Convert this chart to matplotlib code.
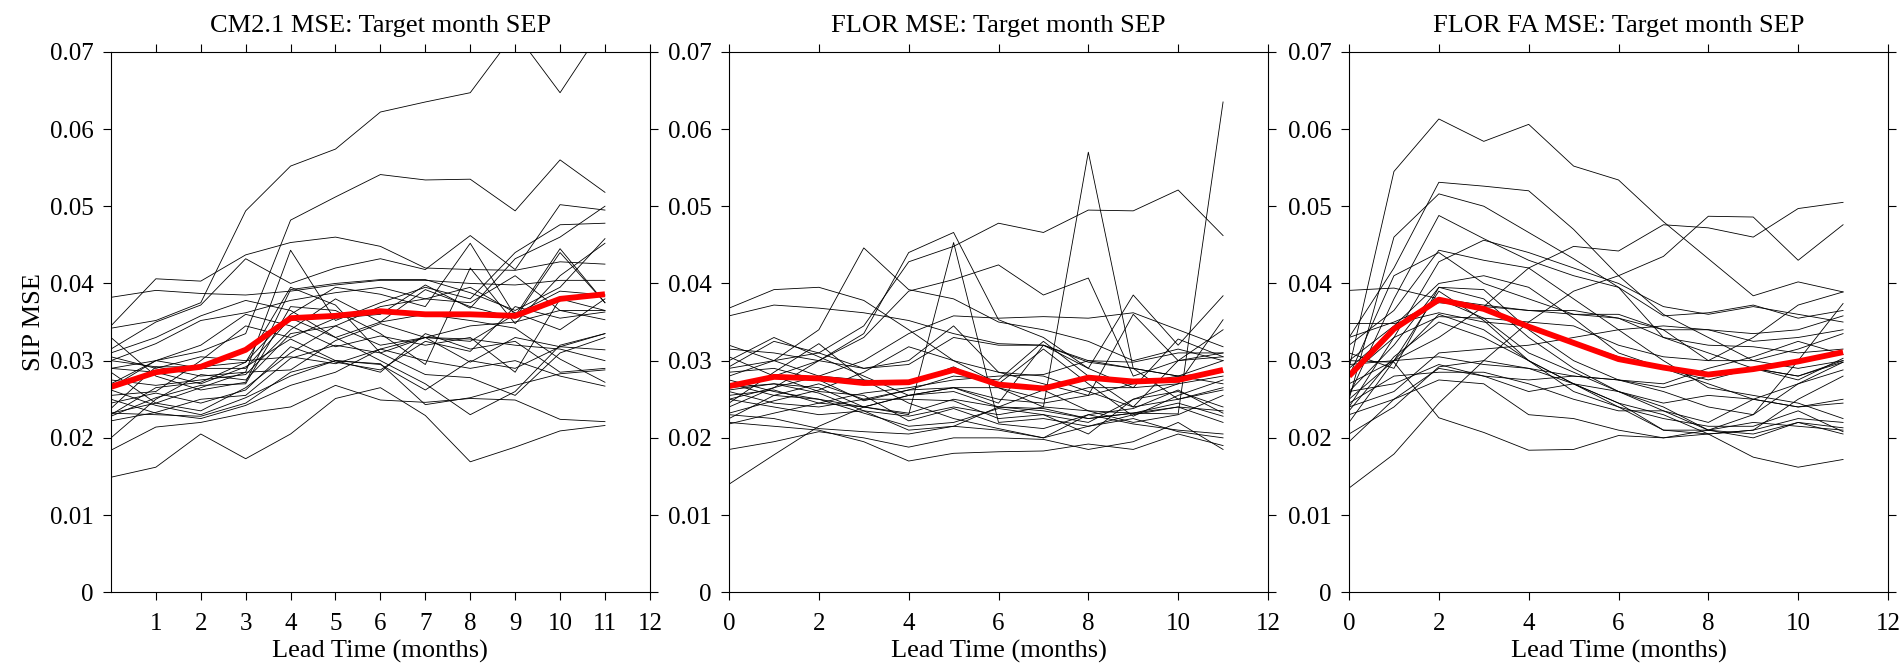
import matplotlib
matplotlib.use("Agg")
from matplotlib import pyplot as plt

# lead times (months)
lead = list(range(12))

# CM2.1 - individual curves (one list per curve, lead 0..11)
cm21_runs = [
    [0.0342, 0.0352, 0.0375, 0.0494, 0.0552, 0.0574, 0.0622, 0.0635, 0.0647, 0.0725, 0.0647, 0.0735],
    [0.0290, 0.0300, 0.0312, 0.0335, 0.0482, 0.0512, 0.0541, 0.0534, 0.0535, 0.0494, 0.0560, 0.0518],
    [0.0382, 0.0391, 0.0387, 0.0385, 0.0390, 0.0398, 0.0404, 0.0404, 0.0400, 0.0398, 0.0404, 0.0404],
    [0.0345, 0.0406, 0.0403, 0.0437, 0.0453, 0.0460, 0.0448, 0.0420, 0.0418, 0.0417, 0.0428, 0.0425],
    [0.0149, 0.0162, 0.0205, 0.0173, 0.0205, 0.0251, 0.0265, 0.0229, 0.0169, 0.0188, 0.0209, 0.0216],
    [0.0184, 0.0214, 0.0220, 0.0232, 0.0240, 0.0268, 0.0249, 0.0246, 0.0251, 0.0249, 0.0224, 0.0221],
    [0.0315, 0.0350, 0.0372, 0.0432, 0.0400, 0.0420, 0.0432, 0.0418, 0.0462, 0.0418, 0.0502, 0.0495],
    [0.0300, 0.0292, 0.0280, 0.0285, 0.0443, 0.0352, 0.0375, 0.0395, 0.0380, 0.0440, 0.0476, 0.0478],
    [0.0330, 0.0280, 0.0262, 0.0272, 0.0392, 0.0400, 0.0405, 0.0405, 0.0388, 0.0365, 0.0395, 0.0458],
    [0.0230, 0.0265, 0.0272, 0.0298, 0.0360, 0.0395, 0.0386, 0.0370, 0.0452, 0.0358, 0.0445, 0.0375],
    [0.0255, 0.0260, 0.0300, 0.0345, 0.0330, 0.0355, 0.0360, 0.0398, 0.0368, 0.0432, 0.0460, 0.0500],
    [0.0228, 0.0252, 0.0268, 0.0270, 0.0370, 0.0365, 0.0335, 0.0295, 0.0420, 0.0348, 0.0410, 0.0452],
    [0.0270, 0.0300, 0.0320, 0.0360, 0.0345, 0.0318, 0.0332, 0.0320, 0.0330, 0.0285, 0.0380, 0.0365],
    [0.0290, 0.0285, 0.0270, 0.0292, 0.0328, 0.0300, 0.0295, 0.0262, 0.0300, 0.0290, 0.0318, 0.0335],
    [0.0245, 0.0258, 0.0245, 0.0262, 0.0318, 0.0298, 0.0288, 0.0325, 0.0312, 0.0370, 0.0355, 0.0363],
    [0.0232, 0.0245, 0.0265, 0.0285, 0.0288, 0.0326, 0.0348, 0.0330, 0.0328, 0.0320, 0.0315, 0.0300],
    [0.0262, 0.0242, 0.0230, 0.0252, 0.0280, 0.0300, 0.0285, 0.0335, 0.0315, 0.0325, 0.0285, 0.0290],
    [0.0300, 0.0322, 0.0352, 0.0362, 0.0378, 0.0388, 0.0395, 0.0380, 0.0375, 0.0410, 0.0365, 0.0353],
    [0.0222, 0.0233, 0.0250, 0.0255, 0.0303, 0.0320, 0.0310, 0.0282, 0.0278, 0.0255, 0.0310, 0.0330],
    [0.0275, 0.0268, 0.0275, 0.0282, 0.0340, 0.0380, 0.0350, 0.0360, 0.0352, 0.0342, 0.0302, 0.0272],
    [0.0310, 0.0330, 0.0358, 0.0378, 0.0365, 0.0330, 0.0350, 0.0392, 0.0370, 0.0355, 0.0440, 0.0375],
    [0.0250, 0.0232, 0.0225, 0.0242, 0.0268, 0.0285, 0.0315, 0.0300, 0.0290, 0.0300, 0.0280, 0.0267],
    [0.0238, 0.0292, 0.0292, 0.0298, 0.0395, 0.0372, 0.0310, 0.0330, 0.0298, 0.0330, 0.0318, 0.0314],
    [0.0285, 0.0245, 0.0235, 0.0265, 0.0310, 0.0345, 0.0320, 0.0330, 0.0325, 0.0360, 0.0390, 0.0385],
    [0.0232, 0.0230, 0.0228, 0.0245, 0.0285, 0.0300, 0.0296, 0.0243, 0.0252, 0.0268, 0.0283, 0.0288],
    [0.0200, 0.0250, 0.0282, 0.0275, 0.0335, 0.0345, 0.0370, 0.0380, 0.0395, 0.0362, 0.0340, 0.0380],
    [0.0265, 0.0300, 0.0290, 0.0290, 0.0355, 0.0330, 0.0300, 0.0270, 0.0230, 0.0260, 0.0320, 0.0335],
    [0.0305, 0.0290, 0.0305, 0.0300, 0.0305, 0.0296, 0.0315, 0.0330, 0.0345, 0.0350, 0.0365, 0.0365],
]
cm21_mean = [0.0266, 0.0285, 0.0292, 0.0314, 0.0355, 0.0358, 0.0364, 0.0360, 0.0360, 0.0358, 0.0380, 0.0386]

# FLOR
flor_runs = [
    [0.0368, 0.0392, 0.0395, 0.0378, 0.0340, 0.0300, 0.0285, 0.0280, 0.0260, 0.0240, 0.0250, 0.0262],
    [0.0358, 0.0372, 0.0368, 0.0362, 0.0352, 0.0335, 0.0322, 0.0320, 0.0300, 0.0290, 0.0280, 0.0270],
    [0.0290, 0.0300, 0.0340, 0.0446, 0.0392, 0.0380, 0.0350, 0.0340, 0.0325, 0.0300, 0.0315, 0.0300],
    [0.0250, 0.0265, 0.0300, 0.0335, 0.0440, 0.0466, 0.0353, 0.0330, 0.0290, 0.0265, 0.0270, 0.0280],
    [0.0280, 0.0300, 0.0310, 0.0345, 0.0428, 0.0448, 0.0478, 0.0466, 0.0495, 0.0494, 0.0521, 0.0462],
    [0.0265, 0.0280, 0.0300, 0.0330, 0.0390, 0.0405, 0.0424, 0.0385, 0.0407, 0.0280, 0.0300, 0.0310],
    [0.0270, 0.0255, 0.0250, 0.0240, 0.0230, 0.0453, 0.0220, 0.0225, 0.0215, 0.0230, 0.0240, 0.0235],
    [0.0250, 0.0240, 0.0230, 0.0235, 0.0228, 0.0240, 0.0230, 0.0240, 0.0570, 0.0290, 0.0250, 0.0265],
    [0.0255, 0.0262, 0.0245, 0.0240, 0.0232, 0.0250, 0.0240, 0.0238, 0.0225, 0.0232, 0.0231, 0.0635],
    [0.0140, 0.0178, 0.0215, 0.0240, 0.0255, 0.0265, 0.0250, 0.0245, 0.0255, 0.0270, 0.0280, 0.0300],
    [0.0185, 0.0195, 0.0208, 0.0200, 0.0188, 0.0200, 0.0200, 0.0198, 0.0185, 0.0195, 0.0220, 0.0185],
    [0.0220, 0.0215, 0.0210, 0.0195, 0.0170, 0.0180, 0.0182, 0.0183, 0.0192, 0.0185, 0.0205, 0.0190],
    [0.0230, 0.0225, 0.0212, 0.0208, 0.0205, 0.0215, 0.0210, 0.0200, 0.0215, 0.0225, 0.0208, 0.0200],
    [0.0300, 0.0330, 0.0305, 0.0280, 0.0255, 0.0260, 0.0240, 0.0262, 0.0235, 0.0232, 0.0240, 0.0220],
    [0.0315, 0.0310, 0.0300, 0.0290, 0.0295, 0.0330, 0.0320, 0.0320, 0.0298, 0.0290, 0.0280, 0.0285],
    [0.0320, 0.0300, 0.0280, 0.0300, 0.0335, 0.0358, 0.0355, 0.0357, 0.0355, 0.0362, 0.0340, 0.0318],
    [0.0292, 0.0325, 0.0310, 0.0290, 0.0300, 0.0345, 0.0285, 0.0270, 0.0255, 0.0360, 0.0300, 0.0305],
    [0.0265, 0.0270, 0.0265, 0.0240, 0.0255, 0.0265, 0.0245, 0.0320, 0.0290, 0.0385, 0.0320, 0.0384],
    [0.0275, 0.0260, 0.0250, 0.0232, 0.0215, 0.0220, 0.0238, 0.0230, 0.0220, 0.0250, 0.0270, 0.0353],
    [0.0285, 0.0290, 0.0275, 0.0248, 0.0262, 0.0280, 0.0275, 0.0325, 0.0280, 0.0240, 0.0300, 0.0340],
    [0.0240, 0.0265, 0.0280, 0.0275, 0.0270, 0.0292, 0.0265, 0.0250, 0.0265, 0.0265, 0.0328, 0.0305],
    [0.0225, 0.0255, 0.0270, 0.0250, 0.0250, 0.0248, 0.0225, 0.0230, 0.0205, 0.0250, 0.0260, 0.0240],
    [0.0262, 0.0270, 0.0258, 0.0235, 0.0210, 0.0215, 0.0240, 0.0235, 0.0225, 0.0232, 0.0245, 0.0228],
    [0.0245, 0.0285, 0.0322, 0.0275, 0.0245, 0.0225, 0.0212, 0.0200, 0.0230, 0.0218, 0.0210, 0.0205],
    [0.0232, 0.0248, 0.0262, 0.0285, 0.0318, 0.0300, 0.0270, 0.0315, 0.0270, 0.0228, 0.0255, 0.0275],
    [0.0305, 0.0280, 0.0260, 0.0255, 0.0222, 0.0238, 0.0218, 0.0212, 0.0230, 0.0238, 0.0262, 0.0232],
    [0.0218, 0.0232, 0.0245, 0.0258, 0.0265, 0.0275, 0.0280, 0.0282, 0.0300, 0.0298, 0.0310, 0.0310],
    [0.0260, 0.0245, 0.0240, 0.0250, 0.0262, 0.0265, 0.0265, 0.0240, 0.0235, 0.0220, 0.0230, 0.0255],
]
flor_mean = [0.0267, 0.0279, 0.0277, 0.0271, 0.0272, 0.0288, 0.0269, 0.0264, 0.0278, 0.0273, 0.0275, 0.0288]

# FLOR FA
florfa_runs = [
    [0.0290, 0.0545, 0.0613, 0.0584, 0.0606, 0.0552, 0.0534, 0.0480, 0.0432, 0.0384, 0.0402, 0.0389],
    [0.0330, 0.0420, 0.0531, 0.0526, 0.0520, 0.0470, 0.0410, 0.0360, 0.0330, 0.0300, 0.0290, 0.0300],
    [0.0250, 0.0460, 0.0516, 0.0500, 0.0466, 0.0432, 0.0395, 0.0358, 0.0362, 0.0372, 0.0355, 0.0365],
    [0.0255, 0.0380, 0.0488, 0.0458, 0.0430, 0.0410, 0.0395, 0.0330, 0.0310, 0.0290, 0.0280, 0.0298],
    [0.0270, 0.0300, 0.0330, 0.0370, 0.0420, 0.0448, 0.0442, 0.0476, 0.0472, 0.0460, 0.0497, 0.0505],
    [0.0135, 0.0179, 0.0245, 0.0300, 0.0350, 0.0390, 0.0410, 0.0435, 0.0487, 0.0486, 0.0430, 0.0476],
    [0.0300, 0.0298, 0.0226, 0.0207, 0.0184, 0.0185, 0.0203, 0.0200, 0.0205, 0.0175, 0.0162, 0.0172],
    [0.0391, 0.0394, 0.0380, 0.0372, 0.0365, 0.0360, 0.0355, 0.0330, 0.0320, 0.0318, 0.0310, 0.0315],
    [0.0348, 0.0348, 0.0362, 0.0350, 0.0345, 0.0325, 0.0305, 0.0290, 0.0275, 0.0290, 0.0280, 0.0300],
    [0.0320, 0.0365, 0.0443, 0.0430, 0.0420, 0.0380, 0.0340, 0.0300, 0.0265, 0.0255, 0.0245, 0.0225],
    [0.0280, 0.0410, 0.0440, 0.0400, 0.0380, 0.0360, 0.0360, 0.0340, 0.0300, 0.0330, 0.0372, 0.0389],
    [0.0240, 0.0330, 0.0428, 0.0456, 0.0440, 0.0420, 0.0400, 0.0370, 0.0360, 0.0370, 0.0360, 0.0350],
    [0.0300, 0.0345, 0.0400, 0.0410, 0.0395, 0.0355, 0.0310, 0.0290, 0.0270, 0.0250, 0.0240, 0.0250],
    [0.0260, 0.0320, 0.0395, 0.0380, 0.0330, 0.0290, 0.0260, 0.0240, 0.0210, 0.0205, 0.0220, 0.0213],
    [0.0220, 0.0300, 0.0390, 0.0352, 0.0300, 0.0270, 0.0245, 0.0230, 0.0205, 0.0210, 0.0225, 0.0220],
    [0.0290, 0.0340, 0.0380, 0.0355, 0.0310, 0.0285, 0.0260, 0.0235, 0.0210, 0.0200, 0.0220, 0.0205],
    [0.0330, 0.0350, 0.0375, 0.0370, 0.0365, 0.0365, 0.0355, 0.0340, 0.0340, 0.0325, 0.0330, 0.0340],
    [0.0250, 0.0300, 0.0360, 0.0340, 0.0300, 0.0260, 0.0240, 0.0225, 0.0215, 0.0215, 0.0235, 0.0208],
    [0.0280, 0.0330, 0.0357, 0.0355, 0.0350, 0.0345, 0.0320, 0.0305, 0.0300, 0.0300, 0.0315, 0.0335],
    [0.0240, 0.0260, 0.0310, 0.0315, 0.0320, 0.0330, 0.0340, 0.0345, 0.0340, 0.0335, 0.0340, 0.0358],
    [0.0295, 0.0300, 0.0305, 0.0295, 0.0290, 0.0280, 0.0275, 0.0270, 0.0290, 0.0305, 0.0325, 0.0308],
    [0.0230, 0.0250, 0.0290, 0.0280, 0.0275, 0.0280, 0.0275, 0.0265, 0.0280, 0.0290, 0.0275, 0.0303],
    [0.0260, 0.0270, 0.0295, 0.0280, 0.0260, 0.0270, 0.0260, 0.0245, 0.0255, 0.0250, 0.0240, 0.0245],
    [0.0195, 0.0250, 0.0275, 0.0270, 0.0230, 0.0225, 0.0210, 0.0200, 0.0210, 0.0220, 0.0215, 0.0210],
    [0.0245, 0.0280, 0.0285, 0.0285, 0.0270, 0.0250, 0.0235, 0.0235, 0.0220, 0.0250, 0.0270, 0.0288],
    [0.0235, 0.0305, 0.0350, 0.0330, 0.0300, 0.0270, 0.0240, 0.0210, 0.0210, 0.0230, 0.0300, 0.0374],
    [0.0310, 0.0290, 0.0395, 0.0392, 0.0340, 0.0300, 0.0275, 0.0260, 0.0240, 0.0230, 0.0270, 0.0298],
    [0.0205, 0.0240, 0.0292, 0.0300, 0.0290, 0.0270, 0.0245, 0.0210, 0.0205, 0.0210, 0.0250, 0.0280],
]
florfa_mean = [0.0280, 0.0341, 0.0379, 0.0367, 0.0344, 0.0323, 0.0302, 0.0291, 0.0282, 0.0289, 0.0299, 0.0311]

titles = ["CM2.1 MSE: Target month SEP", "FLOR MSE: Target month SEP",
          "FLOR FA MSE: Target month SEP"]
yticks = [0, 0.01, 0.02, 0.03, 0.04, 0.05, 0.06, 0.07]
ytick_labels = ["0", "0.01", "0.02", "0.03", "0.04", "0.05", "0.06", "0.07"]

plt.rcParams['font.family'] = ['Liberation Serif', 'DejaVu Serif']

fig = plt.figure(figsize=(19.03, 6.64), dpi=100)
lefts = [0.0583, 0.3831, 0.7089]
panels = [(cm21_runs, cm21_mean), (flor_runs, flor_mean), (florfa_runs, florfa_mean)]

for i, (runs, mean) in enumerate(panels):
    ax = fig.add_axes([lefts[i], 0.108, 0.2832, 0.814])
    for r in runs:
        ax.plot(lead, r, color='k', lw=0.6)
    ax.plot(lead, mean, color='#ff0000', lw=4.2, solid_capstyle='butt')
    ax.set_xlim(0, 12)
    ax.set_ylim(0, 0.07)
    if i == 0:
        ax.set_xticks(range(1, 13))
        ax.set_ylabel('SIP MSE', fontsize=19, labelpad=4)
    else:
        ax.set_xticks(range(0, 13, 2))
    ax.set_yticks(yticks)
    ax.set_yticklabels(ytick_labels)
    ax.tick_params(direction='out', length=5.8, width=0.8, top=True, right=True,
                   labelsize=18)
    ax.tick_params(axis='x', pad=9)
    ax.tick_params(axis='y', pad=6.5)
    ax.set_xlabel('Lead Time (months)', fontsize=19, labelpad=4)
    ax.set_title(titles[i], fontsize=19, pad=14.5)
    for s in ax.spines.values():
        s.set_linewidth(0.8)

fig.savefig('out.png', dpi=100)
